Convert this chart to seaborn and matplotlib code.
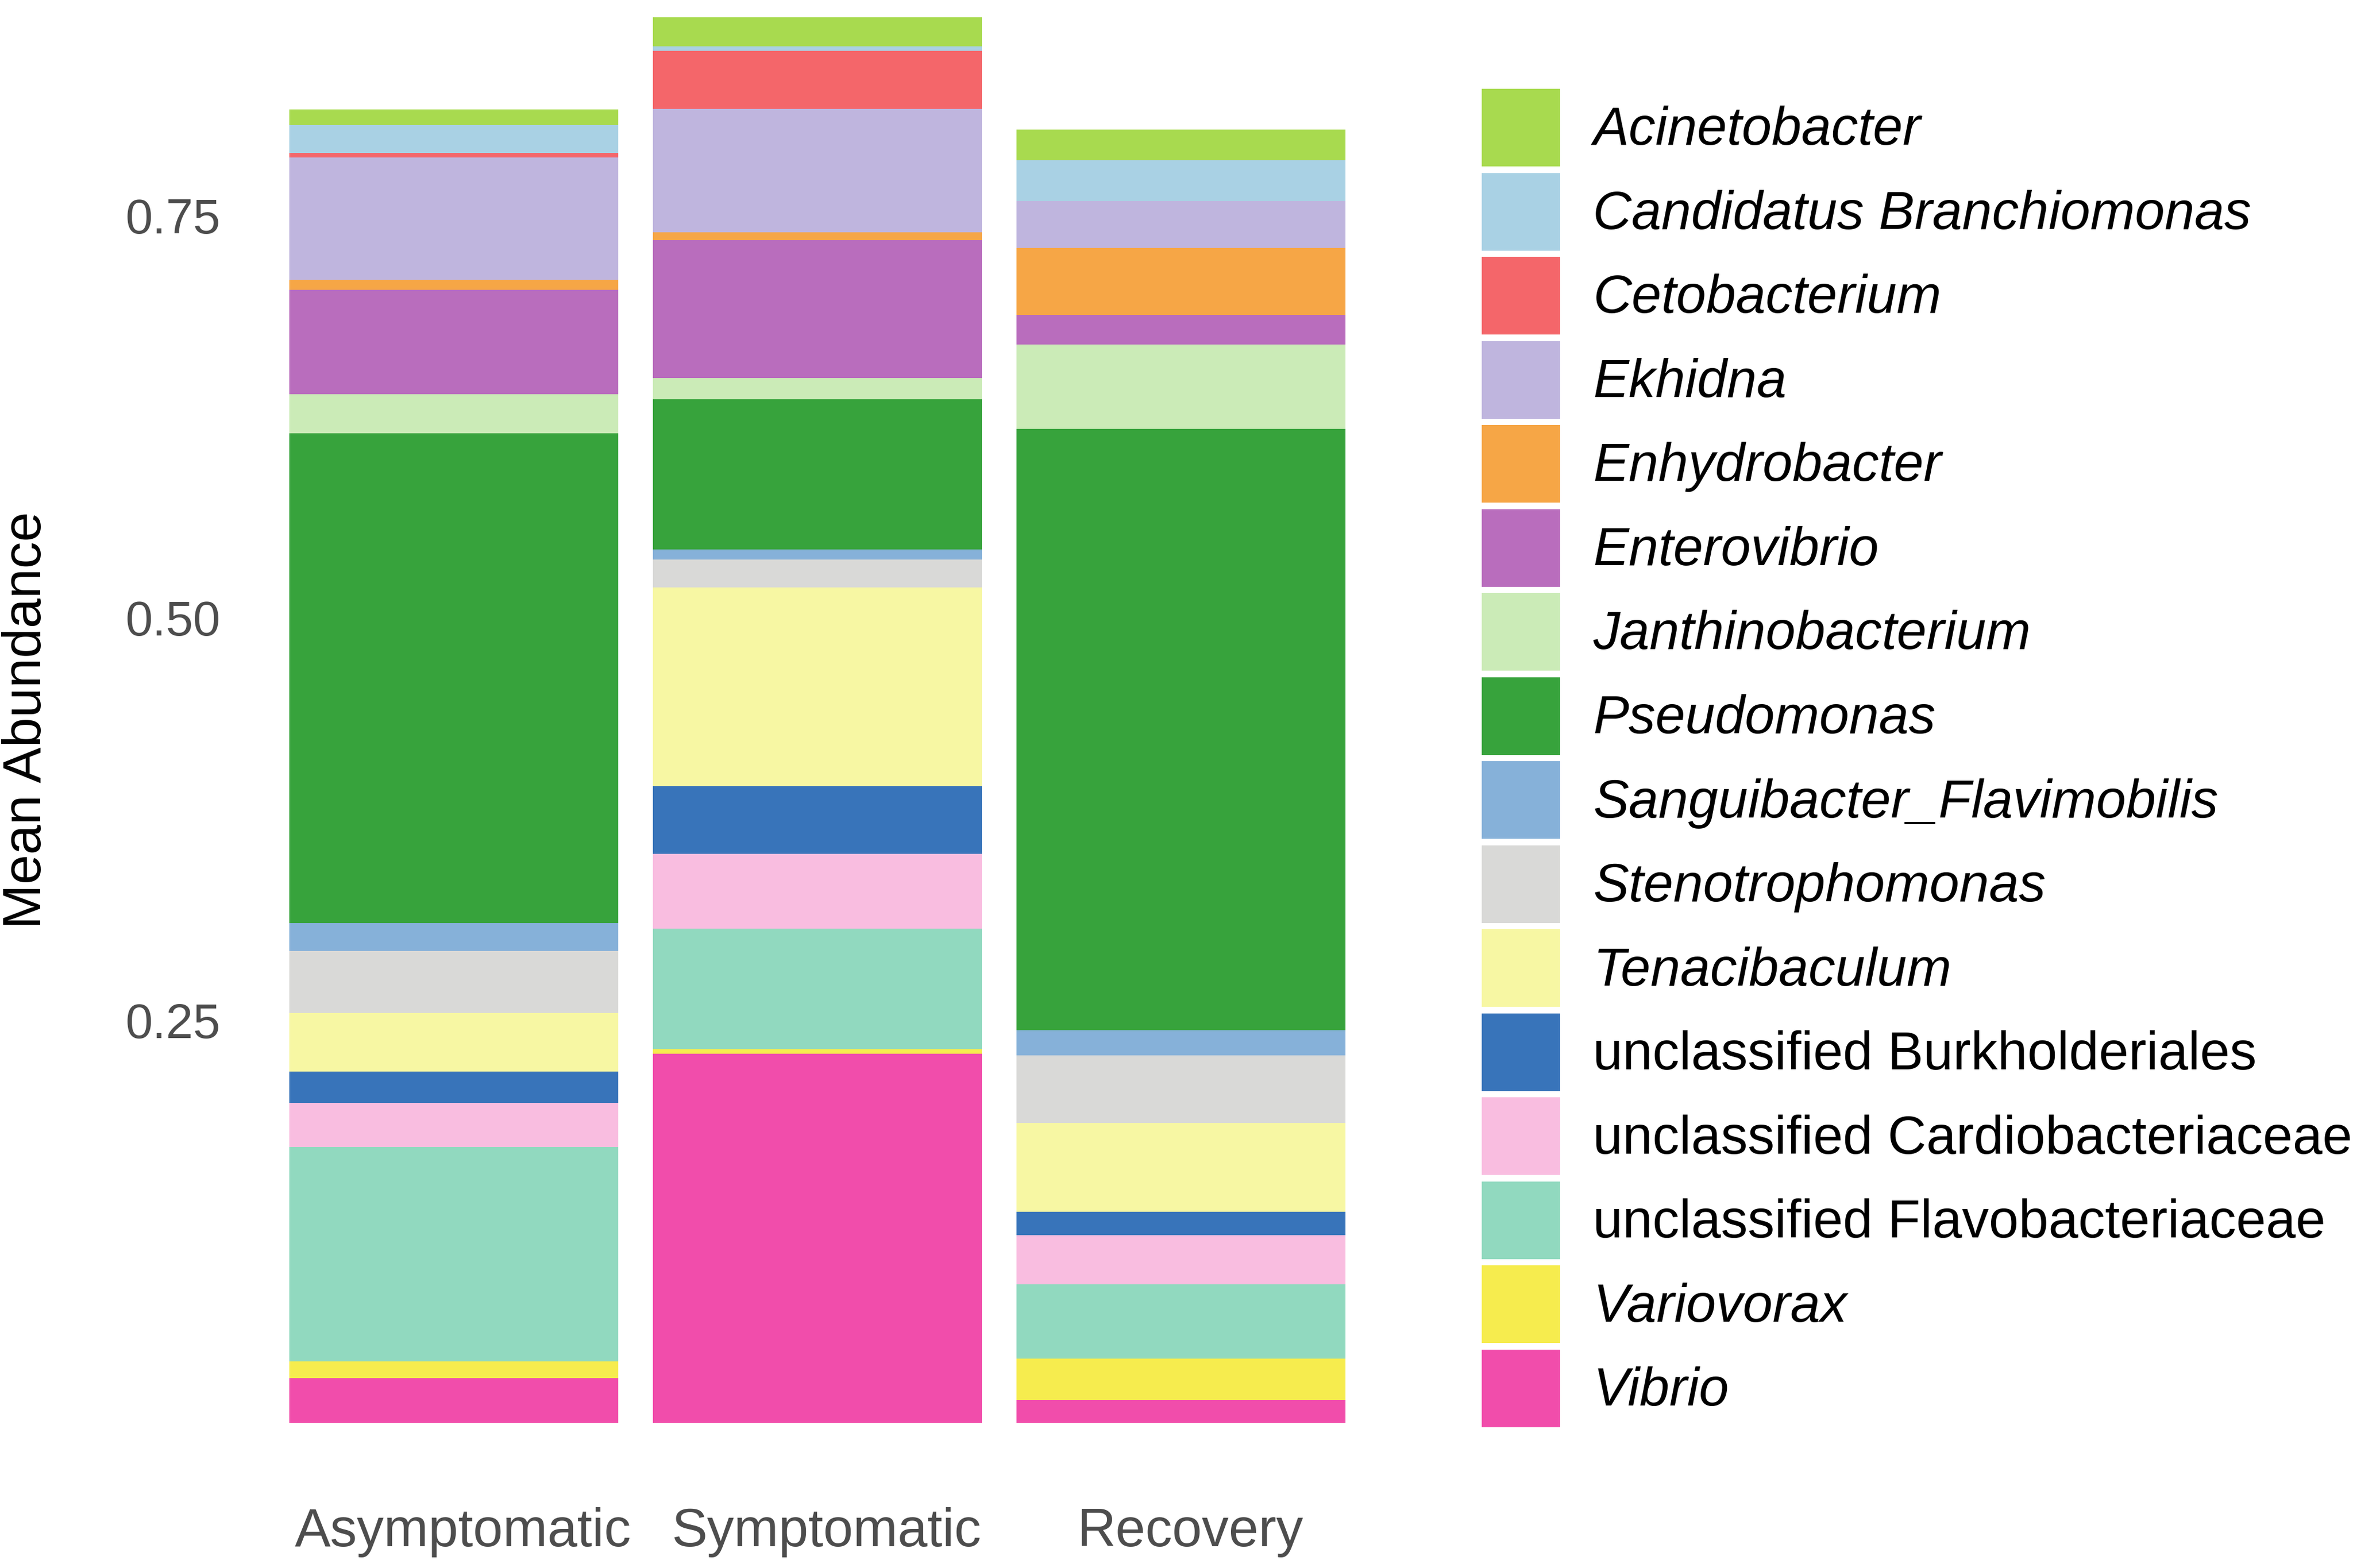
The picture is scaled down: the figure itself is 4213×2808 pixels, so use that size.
import matplotlib
matplotlib.use("Agg")
import matplotlib.pyplot as plt
import matplotlib.transforms as mtransforms
from matplotlib.patches import Patch
import pandas as pd
import seaborn as sns

# groups on the x axis
GROUPS = ["Asymptomatic", "Symptomatic", "Recovery"]

# genera, top of the stack first (same order as the legend)
GENERA = [
    "Acinetobacter", "Candidatus Branchiomonas", "Cetobacterium", "Ekhidna",
    "Enhydrobacter", "Enterovibrio", "Janthinobacterium", "Pseudomonas",
    "Sanguibacter_Flavimobilis", "Stenotrophomonas", "Tenacibaculum",
    "unclassified Burkholderiales", "unclassified Cardiobacteriaceae",
    "unclassified Flavobacteriaceae", "Variovorax", "Vibrio",
]

COLORS = [
    "#A8DA4F", "#A9D1E4", "#F4666A", "#BFB5DE",
    "#F6A646", "#B96DBD", "#CBEBB7", "#37A33C",
    "#86B1D9", "#D9D9D7", "#F7F7A3",
    "#3874BA", "#F9BDE0",
    "#91D9BF", "#F6EC4E", "#F14DAB",
]

# mean abundance per genus
ASYMPTOMATIC = [0.0095, 0.0173, 0.0030, 0.0759, 0.0064, 0.0647, 0.0243, 0.3042,
                0.0175, 0.0385, 0.0363, 0.0195, 0.0275, 0.1331, 0.0105, 0.0277]
SYMPTOMATIC = [0.0179, 0.0030, 0.0359, 0.0767, 0.0050, 0.0857, 0.0129, 0.0934,
               0.0062, 0.0173, 0.1235, 0.0423, 0.0465, 0.0747, 0.0029, 0.2293]
RECOVERY = [0.0189, 0.0255, 0.0000, 0.0292, 0.0414, 0.0183, 0.0525, 0.3737,
            0.0156, 0.0419, 0.0552, 0.0146, 0.0304, 0.0463, 0.0256, 0.0143]

Y_TICKS = [0.25, 0.50, 0.75]
Y_TICK_LABELS = ["0.25", "0.50", "0.75"]

FONT = ["Liberation Sans", "DejaVu Sans"]


def build_frame():
    rows = []
    for i, (grp, vals) in enumerate(zip(GROUPS, [ASYMPTOMATIC, SYMPTOMATIC, RECOVERY])):
        for genus, v in zip(GENERA, vals):
            rows.append({"group": grp, "pos": i, "genus": genus, "abundance": v})
    return pd.DataFrame(rows)


def main():
    df = build_frame()
    palette = dict(zip(GENERA, COLORS))

    sns.set_style("white")
    plt.rcParams["font.family"] = FONT

    fig = plt.figure(figsize=(4213 / 300, 2808 / 300), dpi=300)
    ax = fig.add_axes([0.1002, 0.0477, 0.4944, 0.9523])

    sns.histplot(
        data=df, x="pos", hue="genus", weights="abundance",
        multiple="stack", discrete=True, shrink=0.905,
        hue_order=GENERA, palette=palette,
        linewidth=0, alpha=1, legend=False, ax=ax,
    )

    ax.set_xlim(-0.6, len(GROUPS) - 0.4)
    ax.set_ylim(-0.0437, 0.884)
    ax.set_xticks(range(len(GROUPS)), GROUPS)
    ax.set_yticks(Y_TICKS, Y_TICK_LABELS)
    ax.tick_params(axis="x", length=0, pad=6, labelsize=23, labelcolor="#4D4D4D")
    ax.tick_params(axis="y", length=0, pad=6.5, labelsize=21, labelcolor="#4D4D4D")
    # labels sit a little right of the bar centres in the original
    shift = mtransforms.ScaledTranslation(4 / 72, 0, fig.dpi_scale_trans)
    for lab in ax.get_xticklabels():
        lab.set_transform(lab.get_transform() + shift)
    ax.set_xlabel("")
    ax.set_ylabel("")
    sns.despine(ax=ax, left=True, bottom=True)
    ax.grid(False)

    fig.text(48 / 4213, 1 - 1290 / 2808, "Mean Abundance", rotation=90,
             ha="center", va="center", fontsize=23, color="black")

    handles = [Patch(facecolor=c, edgecolor="none") for c in COLORS]
    leg = fig.legend(
        handles, GENERA, loc="upper left",
        bbox_to_anchor=(2653 / 4213, 1 - 159 / 2808),
        frameon=False, fontsize=23, borderpad=0, borderaxespad=0,
        handlelength=1.46, handleheight=1.855, labelspacing=0.12,
        handletextpad=0.62, labelcolor="black",
    )
    for txt in leg.get_texts():
        if not txt.get_text().startswith("unclassified"):
            txt.set_fontstyle("italic")

    fig.savefig("out.png", dpi=300)
    plt.close(fig)


if __name__ == "__main__":
    main()
